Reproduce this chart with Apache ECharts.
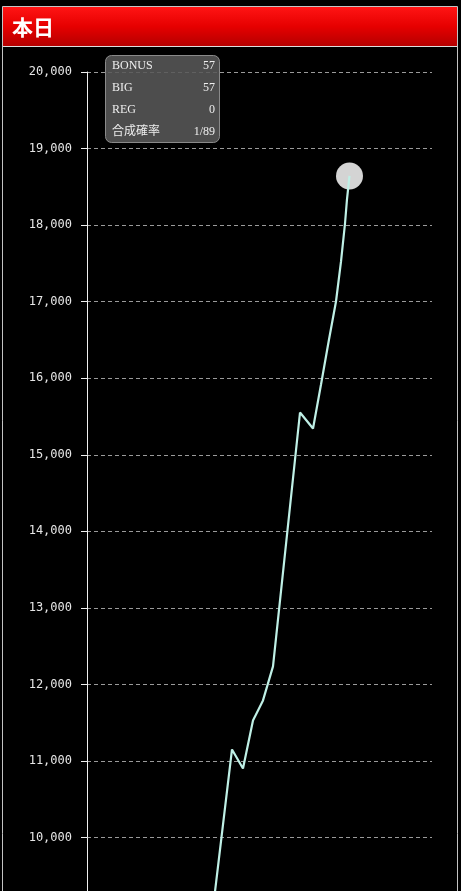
<!DOCTYPE html>
<html>
<head>
<meta charset="utf-8">
<script src="https://cdn.jsdelivr.net/npm/echarts@6/dist/echarts.min.js"></script>
<style>
html, body { margin: 0; padding: 0; background: #000; overflow: hidden; width: 461px; height: 891px; }
#chart { position: absolute; left: 0; top: 0; width: 461px; height: 1660px; }
</style>
</head>
<body>
<div id="chart"></div>
<script>
// ---- data ----
var titleText = '本日';
var gameCounts = [0, 2171, 2942, 3165, 3368, 3571, 3774, 4322, 4586, 4748, 4910, 5052, 5154, 5235, 5275, 5326];
var medalValues = [0, 7000, 11150, 10902, 11529, 11791, 12235, 15552, 15343, 15918, 16506, 17002, 17525, 18021, 18335, 18642];
var statLabels = ['BONUS', 'BIG', 'REG', '合成確率'];
var statValues = ['57', '57', '0', '1/89'];
var yMin = 0, yMax = 20000, yStep = 1000;
var xMin = 0, xMax = 7000;

var lineData = gameCounts.map(function (g, i) { return [g, medalValues[i]]; });
var lastPoint = lineData[lineData.length - 1];

var chart = echarts.init(document.getElementById('chart'), null, { renderer: 'canvas' });

var statTexts = [];
statLabels.forEach(function (lab, i) {
  var yy = 66 + i * 22;
  statTexts.push({
    type: 'text', z: 101,
    style: { text: lab, x: 112, y: yy, fill: '#eeeeee', textAlign: 'left', textVerticalAlign: 'middle',
      font: '12px "Liberation Serif", "Noto Sans CJK JP", serif' }
  });
  statTexts.push({
    type: 'text', z: 101,
    style: { text: statValues[i], x: 215, y: yy, fill: '#eeeeee', textAlign: 'right', textVerticalAlign: 'middle',
      font: '12px "Liberation Serif", "Noto Sans CJK JP", serif' }
  });
});

var option = {
  backgroundColor: '#000',
  animation: false,
  grid: { left: 87, right: 29, top: 72, height: 1531, containLabel: false },
  xAxis: {
    type: 'value', min: xMin, max: xMax,
    axisLine: { show: false }, axisTick: { show: false }, axisLabel: { show: false }, splitLine: { show: false }
  },
  yAxis: {
    type: 'value', min: yMin, max: yMax, interval: yStep,
    axisLine: { show: true, lineStyle: { color: '#f0f0f0', width: 1 } },
    axisTick: { show: true, length: 6, lineStyle: { color: '#f0f0f0' } },
    axisLabel: {
      color: '#e6e6e6', margin: 15,
      fontFamily: '"DejaVu Sans Mono", monospace', fontSize: 12,
      formatter: function (v) { return v.toLocaleString('en-US'); }
    },
    splitLine: { show: true, lineStyle: { color: '#9a9a9a', type: [4, 3], width: 1 } }
  },
  series: [
    {
      type: 'scatter', data: [lastPoint], symbolSize: 27, z: 1,
      itemStyle: { color: '#d4d4d4', opacity: 1 }, silent: true
    },
    {
      type: 'line', data: lineData, showSymbol: false, smooth: false, z: 2,
      lineStyle: { color: '#bff0e6', width: 2.2 }, silent: true
    }
  ],
  graphic: [
    { type: 'rect', z: 90, silent: true,
      shape: { x: 2.5, y: 6.5, width: 455, height: 1700 },
      style: { fill: 'none', stroke: '#c4c4c4', lineWidth: 1 } },
    { type: 'rect', z: 91, silent: true,
      shape: { x: 3, y: 7, width: 454, height: 39 },
      style: { fill: new echarts.graphic.LinearGradient(0, 0, 0, 1, [
        { offset: 0, color: '#ff1414' }, { offset: 0.5, color: '#e60000' }, { offset: 1, color: '#b50000' }
      ]) } },
    { type: 'line', z: 92, silent: true,
      shape: { x1: 3, y1: 46.5, x2: 457, y2: 46.5 },
      style: { stroke: '#dddddd', lineWidth: 1 } },
    { type: 'text', z: 93, silent: true,
      style: { text: titleText, x: 12, y: 27, fill: '#ffffff', textAlign: 'left', textVerticalAlign: 'middle',
        font: 'bold 21px "Noto Sans CJK JP", serif',
        shadowColor: 'rgba(0,0,0,0.6)', shadowBlur: 2, shadowOffsetX: 1, shadowOffsetY: 1 } },
    { type: 'rect', z: 100, silent: true,
      shape: { x: 105.5, y: 55.5, width: 114, height: 87, r: 6 },
      style: { fill: 'rgba(88,88,88,0.88)', stroke: 'rgba(150,150,150,0.9)', lineWidth: 1 } }
  ].concat(statTexts)
};
chart.setOption(option);
</script>
</body>
</html>
